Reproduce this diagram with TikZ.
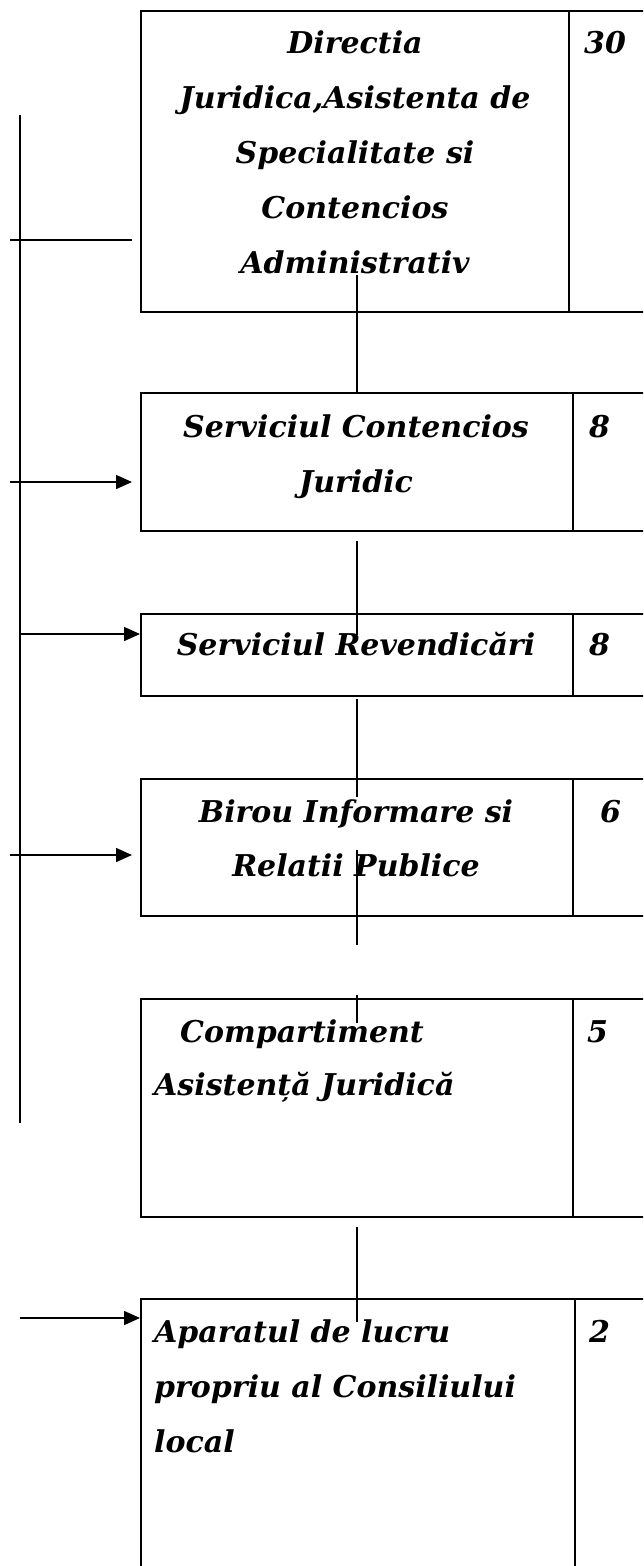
\documentclass[tikz,border=0pt]{standalone}
\usepackage{fontspec}
\setmainfont{DejaVu Serif}
\usetikzlibrary{arrows.meta}
\tikzset{
  box/.style={draw=black, line width=2pt, rectangle, inner sep=0pt, outer sep=0pt, anchor=north west},
  divline/.style={draw=black, line width=1.8pt},
  conn/.style={draw=black, line width=1.5pt},
  arr/.style={draw=black, line width=1.5pt, -{Triangle[length=16pt,width=14pt]}},
  lbl/.style={font=\bfseries\itshape\fontsize{30}{34}\selectfont, inner sep=0pt, anchor=base},
  lbll/.style={lbl, anchor=base west},
}
\begin{document}
\begin{tikzpicture}[x=1pt,y=-1pt]
\useasboundingbox (0,0) rectangle (643,1566);
\clip (0,0) rectangle (643,1566);
\fill[white] (0,0) rectangle (643,1566);

% boxes
\node[box, minimum width=520pt, minimum height=301pt] (b1) at (141,11) {};
\node[box, minimum width=520pt, minimum height=138pt] (b2) at (141,393) {};
\node[box, minimum width=520pt, minimum height=82pt] (b3) at (141,614) {};
\node[box, minimum width=520pt, minimum height=137pt] (b4) at (141,779) {};
\node[box, minimum width=520pt, minimum height=218pt] (b5) at (141,999) {};
\node[box, minimum width=520pt, minimum height=300pt] (b6) at (141,1299) {};

% dividers
\coordinate (x1) at (569,0);
\coordinate (x2) at (573,0);
\coordinate (x6) at (575,0);
\draw[divline] (x1 |- b1.north) -- (x1 |- b1.south);
\draw[divline] (x2 |- b2.north) -- (x2 |- b2.south);
\draw[divline] (x2 |- b3.north) -- (x2 |- b3.south);
\draw[divline] (x2 |- b4.north) -- (x2 |- b4.south);
\draw[divline] (x2 |- b5.north) -- (x2 |- b5.south);
\draw[divline] (x6 |- b6.north) -- (x6 |- b6.south);

% texts
\node[lbl] (t1a) at (355,53) {Directia};
\node[lbl] (t1b) at (355,108) {Juridica,Asistenta de};
\node[lbl] (t1c) at (355,163) {Specialitate si};
\node[lbl] (t1d) at (355,218) {Contencios};
\node[lbl] (t1e) at (355,273) {Administrativ};
\node[lbll] (n1) at (584,53) {30};

\node[lbl] (t2a) at (356,437) {Serviciul Contencios};
\node[lbl] (t2b) at (356,492) {Juridic};
\node[lbll] (n2) at (589,437) {8};

\node[lbl] (t3a) at (356,655) {Serviciul Revendicări};
\node[lbll] (n3) at (589,655) {8};

\node[lbl] (t4a) at (356,822) {Birou Informare si};
\node[lbl] (t4b) at (356,876) {Relatii Publice};
\node[lbll] (n4) at (600,822) {6};

\node[lbll] (t5a) at (180,1042) {Compartiment};
\node[lbll] (t5b) at (154,1095) {Asistență Juridică};
\node[lbll] (n5) at (587,1042) {5};

\node[lbll] (t6a) at (154,1342) {Aparatul de lucru};
\node[lbll] (t6b) at (154,1397) {propriu al Consiliului};
\node[lbll] (t6c) at (154,1452) {local};
\node[lbll] (n6) at (589,1342) {2};

% spine and connectors
\coordinate (s1) at (20,115);
\coordinate (s2) at (20,1123);
\draw[conn] (s1) -- (s2);

\coordinate (h1a) at (10,240);
\coordinate (h1b) at (132,240);
\draw[conn] (h1a) -- (h1b);

\coordinate (a2a) at (10,482);
\coordinate (a2b) at (132,482);
\draw[arr] (a2a) -- (a2b);

\coordinate (a3a) at (20,634);
\coordinate (a3b) at (140,634);
\draw[arr] (a3a) -- (a3b);

\coordinate (a4a) at (10,855);
\coordinate (a4b) at (132,855);
\draw[arr] (a4a) -- (a4b);

\coordinate (a6a) at (20,1318);
\coordinate (a6b) at (140,1318);
\draw[arr] (a6a) -- (a6b);

% vertical connectors
\coordinate (v1a) at (357,275);
\draw[conn] (v1a) -- (v1a |- b2.north);
\coordinate (v2a) at (357,541);
\coordinate (v2b) at (357,635);
\draw[conn] (v2a) -- (v2b);
\coordinate (v3a) at (357,699);
\coordinate (v3b) at (357,797);
\draw[conn] (v3a) -- (v3b);
\coordinate (v4a) at (357,850);
\coordinate (v4b) at (357,945);
\draw[conn] (v4a) -- (v4b);
\coordinate (v5a) at (357,995);
\coordinate (v5b) at (357,1023);
\draw[conn] (v5a) -- (v5b);
\coordinate (v6a) at (357,1227);
\coordinate (v6b) at (357,1322);
\draw[conn] (v6a) -- (v6b);
\end{tikzpicture}
\end{document}
